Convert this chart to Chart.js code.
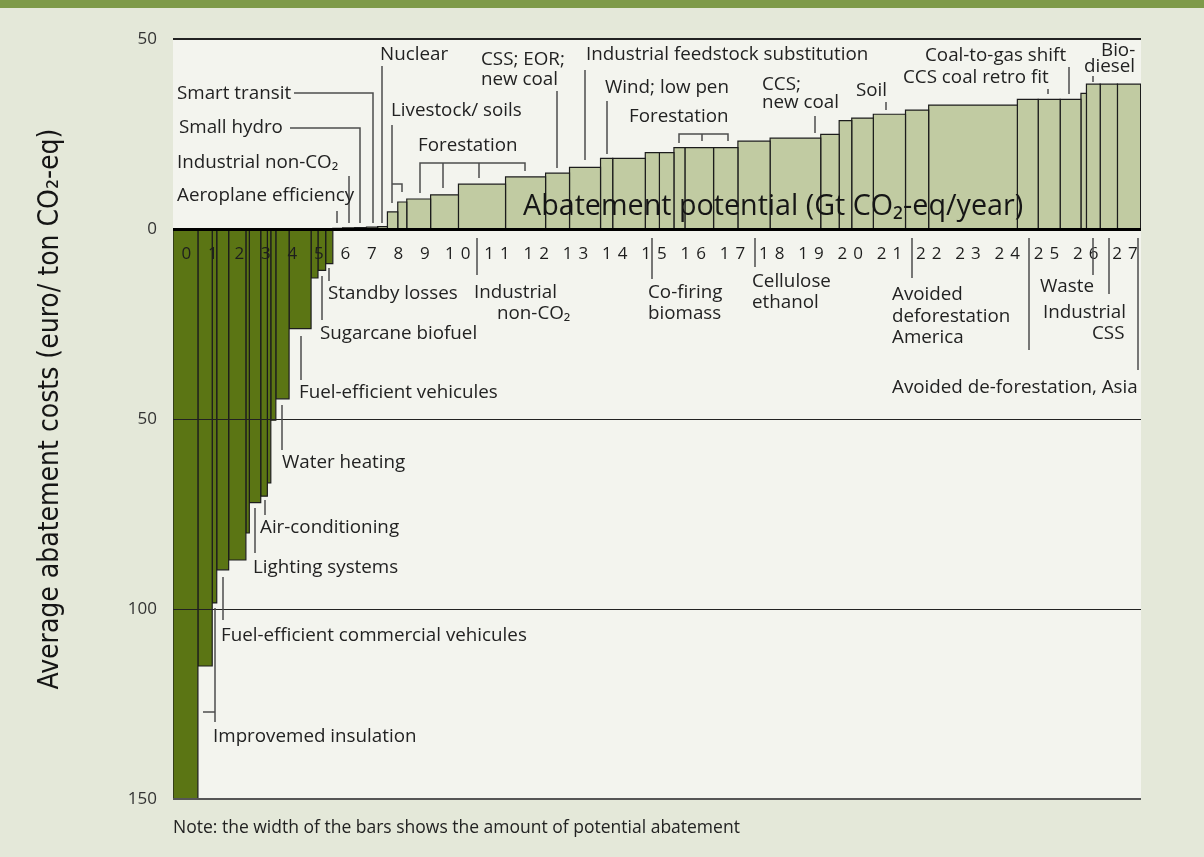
<!DOCTYPE html>
<html>
<head>
<meta charset="utf-8">
<title>Abatement cost curve</title>
<script src="https://cdn.jsdelivr.net/npm/chart.js@4.4.1/dist/chart.umd.min.js"></script>
<style>
  html, body { margin: 0; padding: 0; background: #e4e8d9; }
  #wrap { position: relative; width: 1204px; height: 857px; }
</style>
</head>
<body>
<div id="wrap"><canvas id="curve"></canvas></div>
<script>
// abatement potential of each measure (Gt CO2-eq/year), left to right
const potential = [
  0.94, 0.54, 0.17, 0.45, 0.65, 0.13, 0.43, 0.25, 0.13, 0.19, 0.50, 0.83, 0.26, 0.29, 0.27,
  0.37, 0.45, 0.45, 0.42, 0.37,
  0.39, 0.34, 0.90, 0.80, 1.20, 1.02, 0.61, 0.79, 0.31, 0.83, 0.36, 0.37, 0.28, 0.73, 0.62,
  0.82, 1.29, 0.47, 0.32, 0.55, 0.82, 0.59, 2.26, 0.53, 0.56, 0.53, 0.14, 0.35, 0.44, 0.59
];
// average abatement cost (euro/ton CO2-eq), negative = saves money
const cost = [
  -150, -115, -98.4, -89.7, -87.1, -80, -72, -70.3, -66.8, -50.3, -44.7, -26.2, -12.9, -10.9, -9.1,
  0.2, 0.3, 0.4, 0.5, 0.6,
  4.5, 7.1, 7.9, 9.0, 11.8, 13.7, 14.7, 16.2, 18.6, 18.6, 20.1, 20.1, 21.4, 21.4, 21.4,
  23.1, 23.9, 24.9, 28.5, 29.2, 30.2, 31.3, 32.6, 34.1, 34.1, 34.1, 35.7, 38.1, 38.1, 38.1
];
const xTickLabels = ['0', '1', '2', '3', '4', '5', '6', '7', '8', '9', '10', '11', '12', '13',
  '14', '15', '16', '17', '18', '19', '20', '21', '22', '23', '24', '25', '26', '27'];
const yTickValues = [50, 0, -50, -100, -150];

const darkGreen = '#5b7514';
const lightGreen = '#c1cba2';

// the printed axis is squeezed below 10 Gt: value -> share of the axis width
const xBreaks = [[0, 0], [10, 0.2738], [27.91, 1]];

function toShare(v) {
  let i = 0;
  while (i < xBreaks.length - 2 && v > xBreaks[i + 1][0]) i++;
  const a = xBreaks[i], b = xBreaks[i + 1];
  return a[1] + (v - a[0]) * (b[1] - a[1]) / (b[0] - a[0]);
}
function fromShare(s) {
  let i = 0;
  while (i < xBreaks.length - 2 && s > xBreaks[i + 1][1]) i++;
  const a = xBreaks[i], b = xBreaks[i + 1];
  return a[0] + (s - a[1]) * (b[0] - a[0]) / (b[1] - a[1]);
}

class BrokenScale extends Chart.LinearScale {
  getPixelForValue(value) {
    if (value === null || isNaN(value)) return NaN;
    return this.getPixelForDecimal(toShare(value));
  }
  getValueForPixel(pixel) {
    return fromShare(this.getDecimalForPixel(pixel));
  }
}
BrokenScale.id = 'broken';
BrokenScale.defaults = Chart.LinearScale.defaults;
Chart.register(BrokenScale);

// one closed outline per measure, filled down/up to zero
let start = 0;
const datasets = potential.map((w, i) => {
  const x0 = start;
  const x1 = start + w;
  start = x1;
  return {
    data: [{ x: x0, y: 0 }, { x: x0, y: cost[i] }, { x: x1, y: cost[i] }, { x: x1, y: 0 }],
    backgroundColor: cost[i] < 0 ? darkGreen : lightGreen,
    borderColor: '#1c1c1c',
    borderWidth: 1.2,
    fill: 'origin',
    pointRadius: 0,
    pointHitRadius: 0,
    tension: 0
  };
});

// labels: [lines, left x, first baseline, line height]
const notes = [
  [['Nuclear'], 380, 60],
  [['Smart transit'], 177, 99],
  [['Small hydro'], 179, 133],
  [['Industrial non-CO₂'], 177, 168],
  [['Aeroplane efficiency'], 177, 201],
  [['Livestock/ soils'], 391, 116],
  [['Forestation'], 418, 151],
  [['CSS; EOR;', 'new coal'], 481, 65, 20],
  [['Industrial feedstock substitution'], 586, 60],
  [['Wind; low pen'], 605, 93],
  [['Forestation'], 629, 122],
  [['CCS;', 'new coal'], 762, 90, 18],
  [['Soil'], 856, 96],
  [['Coal-to-gas shift'], 925, 61],
  [['CCS coal retro fit'], 903, 83],
  [['Standby losses'], 328, 299],
  [['Sugarcane biofuel'], 320, 339],
  [['Fuel-efficient vehicules'], 299, 398],
  [['Water heating'], 282, 468],
  [['Air-conditioning'], 260, 533],
  [['Lighting systems'], 253, 573],
  [['Fuel-efficient commercial vehicules'], 221, 641],
  [['Improvemed insulation'], 213, 742],
  [['Co-firing', 'biomass'], 648, 298, 21],
  [['Cellulose', 'ethanol'], 752, 287, 21],
  [['Avoided', 'deforestation', 'America'], 892, 300, 21.5],
  [['Waste'], 1040, 292],
  [['Avoided de-forestation, Asia'], 892, 393]
];
// single lines placed apart (right-aligned bits)
const looseNotes = [
  ['Industrial', 474, 298], ['non-CO₂', 497, 319],
  ['Bio-', 1101, 56], ['diesel', 1084, 72],
  ['Industrial', 1043, 318], ['CSS', 1092, 339]
];
const leaders = [
  [[382, 66], [382, 223]],
  [[294, 93], [373, 93], [373, 223]],
  [[290, 128], [360, 128], [360, 223]],
  [[349, 176], [349, 223]],
  [[337, 211], [337, 223]],
  [[392, 125], [392, 203]], [[392, 184], [402, 184], [402, 192]],
  [[420, 193], [420, 163], [525, 163], [525, 171]], [[443, 163], [443, 188]], [[479, 163], [479, 178]],
  [[557, 91], [557, 168]],
  [[585, 70], [585, 160]],
  [[607, 101], [607, 154]],
  [[679, 143], [679, 134], [728, 134], [728, 141]], [[702, 134], [702, 141]],
  [[815, 116], [815, 133]],
  [[886, 102], [886, 110]],
  [[1069, 67], [1069, 94]],
  [[1048, 89], [1048, 94]],
  [[1093, 76], [1093, 82]],
  [[329, 268], [329, 281]],
  [[322, 276], [322, 320]],
  [[477, 238], [477, 275]],
  [[301, 336], [301, 380]],
  [[282, 405], [282, 450]],
  [[265, 500], [265, 515]],
  [[255, 508], [255, 553]],
  [[223, 577], [223, 620]],
  [[203, 712], [215, 712]], [[215, 608], [215, 722]],
  [[652, 238], [652, 279]],
  [[755, 238], [755, 267]],
  [[912, 238], [912, 278]],
  [[1029, 238], [1029, 350]],
  [[1093, 238], [1093, 275]],
  [[1109, 238], [1109, 294]],
  [[1138, 238], [1138, 370]]
];

const textFont = '18.8px "Open Sans", "DejaVu Sans", sans-serif';

const decor = {
  id: 'decor',
  beforeDraw(chart) {
    const { ctx, chartArea: a } = chart;
    ctx.save();
    ctx.fillStyle = '#e4e8d9';
    ctx.fillRect(0, 0, chart.width, chart.height);
    ctx.fillStyle = '#7e9a49';
    ctx.fillRect(0, 0, chart.width, 8);
    ctx.fillStyle = '#f3f4ee';
    ctx.fillRect(a.left, a.top, a.right - a.left, a.bottom - a.top);
    ctx.restore();
  },
  afterDraw(chart) {
    const { ctx } = chart;
    const xs = chart.scales.x, ys = chart.scales.y;
    ctx.save();

    // x tick labels just under the zero line
    ctx.fillStyle = '#1e1e1e';
    ctx.font = '17px "Open Sans", sans-serif';
    ctx.textAlign = 'center';
    ctx.textBaseline = 'alphabetic';
    const base = ys.getPixelForValue(0) + 30;
    xTickLabels.forEach((t, k) => {
      ctx.letterSpacing = t.length > 1 ? '6px' : '0px';
      const shift = t.length > 1 ? 3 : 0;
      ctx.fillText(t, xs.getPixelForValue(k + 0.5) + shift, base);
    });
    ctx.letterSpacing = '0px';

    // leader lines
    ctx.strokeStyle = '#4d4d4d';
    ctx.lineWidth = 1.5;
    leaders.forEach(pts => {
      ctx.beginPath();
      pts.forEach((p, i) => i ? ctx.lineTo(p[0], p[1]) : ctx.moveTo(p[0], p[1]));
      ctx.stroke();
    });

    // labels
    ctx.fillStyle = '#222';
    ctx.font = textFont;
    ctx.textAlign = 'left';
    notes.forEach(([lines, x, y, lh]) => {
      lines.forEach((s, i) => ctx.fillText(s, x, y + i * (lh || 20)));
    });
    looseNotes.forEach(([s, x, y]) => ctx.fillText(s, x, y));

    // axis titles
    ctx.font = '28.7px "Open Sans", "DejaVu Sans", sans-serif';
    ctx.fillStyle = '#151515';
    ctx.fillText('Abatement potential (Gt CO₂-eq/year)', 523, ys.getPixelForValue(0) - 14);

    ctx.save();
    ctx.translate(58, 409);
    ctx.rotate(-Math.PI / 2);
    ctx.textAlign = 'center';
    ctx.font = '28px "Liberation Sans Narrow", "DejaVu Sans Condensed", sans-serif';
    ctx.fillText('Average abatement costs (euro/ ton CO₂-eq)', 0, 0);
    ctx.restore();

    ctx.font = '17.5px "Open Sans", sans-serif';
    ctx.fillStyle = '#222';
    ctx.fillText('Note: the width of the bars shows the amount of potential abatement', 173, 833);
    ctx.restore();
  }
};

new Chart(document.getElementById('curve'), {
  type: 'line',
  data: { datasets: datasets },
  options: {
    responsive: true,
    maintainAspectRatio: false,
    animation: false,
    events: [],
    layout: { padding: { left: 0, top: 39, right: 63, bottom: 58 } },
    plugins: {
      legend: { display: false },
      tooltip: { enabled: false }
    },
    scales: {
      x: {
        type: 'broken',
        min: 0,
        max: 27.91,
        display: false
      },
      y: {
        min: -150,
        max: 50,
        afterFit: s => { s.width = 173; },
        afterBuildTicks: s => { s.ticks = yTickValues.map(v => ({ value: v })); },
        border: { display: false },
        grid: {
          z: 1,
          drawTicks: false,
          color: c => c.tick.value === 0 ? '#000' : (c.tick.value === -150 ? '#555' : '#222'),
          lineWidth: c => c.tick.value === 0 ? 3 : (c.tick.value === 50 || c.tick.value === -150 ? 2 : 1)
        },
        ticks: {
          padding: 16,
          color: '#333',
          font: { family: 'Open Sans', size: 17 },
          callback: v => Math.abs(v)
        }
      }
    }
  },
  plugins: [decor]
});
</script>
</body>
</html>
